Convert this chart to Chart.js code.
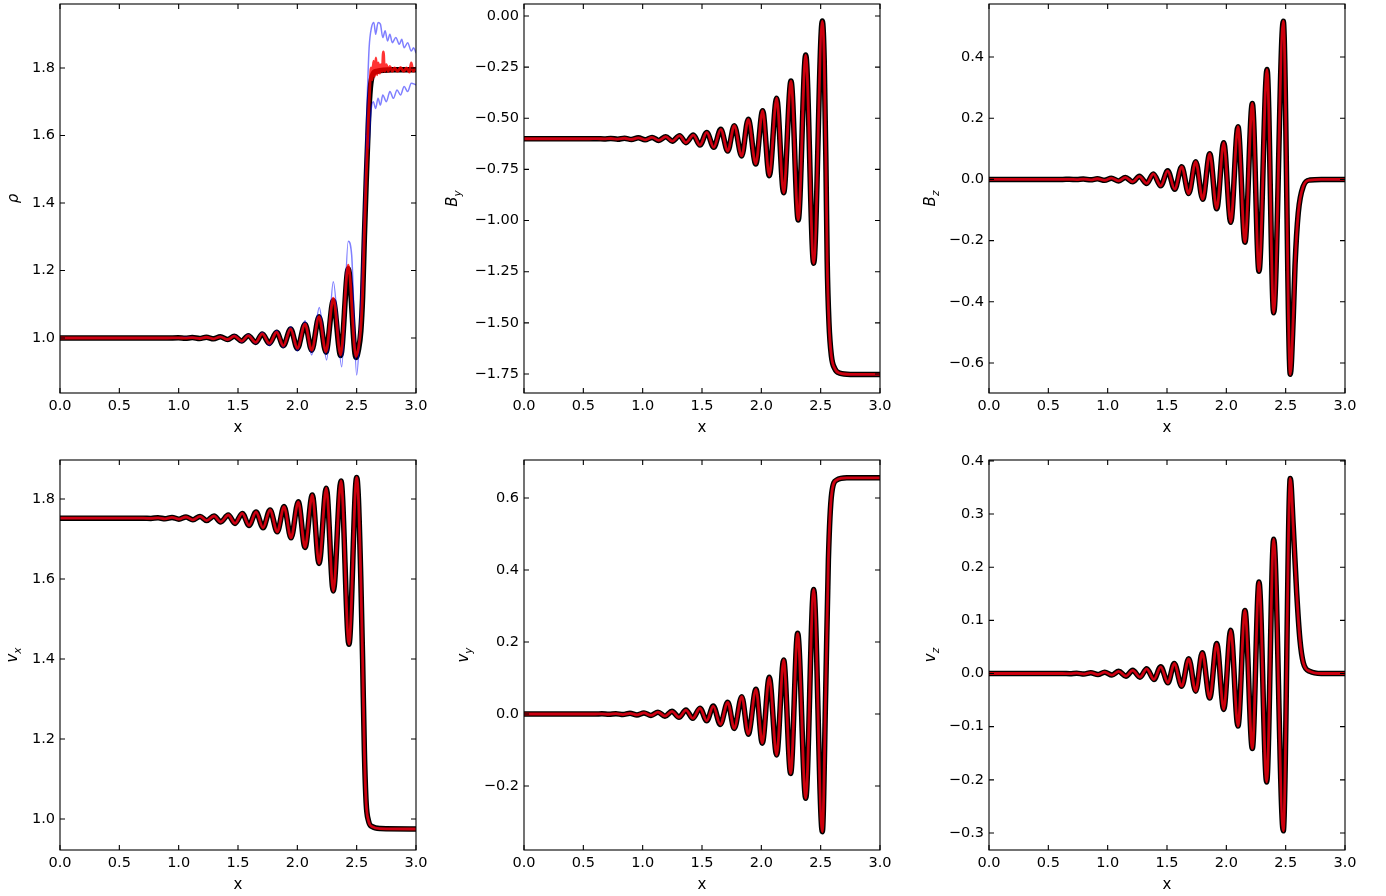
<!DOCTYPE html>
<html><head><meta charset="utf-8">
<script src="https://cdn.jsdelivr.net/npm/chart.js@4.4.1/dist/chart.umd.min.js"></script>
<style>
html,body{margin:0;padding:0;background:#fff;}
#wrap{position:relative;width:1386px;height:896px;overflow:hidden;background:#fff;}
canvas{position:absolute;}
</style></head><body><div id="wrap"></div>
<script>
// ---------------- data ----------------
const xTicks = [0, 0.5, 1.0, 1.5, 2.0, 2.5, 3.0];
const rhoTicks = [1.0, 1.2, 1.4, 1.6, 1.8];
const byTicks = [-1.75, -1.5, -1.25, -1.0, -0.75, -0.5, -0.25, 0.0];
const bzTicks = [-0.6, -0.4, -0.2, 0.0, 0.2, 0.4];
const vxTicks = [1.0, 1.2, 1.4, 1.6, 1.8];
const vyTicks = [-0.2, 0.0, 0.2, 0.4, 0.6];
const vzTicks = [-0.3, -0.2, -0.1, 0.0, 0.1, 0.2, 0.3, 0.4];

// density: black reference
const rhoBlackX = [0.0, 0.9, 0.997, 1.056, 1.115, 1.177, 1.233, 1.295, 1.351, 1.413, 1.469, 1.531, 1.587, 1.649, 1.705, 1.764, 1.826, 1.882, 1.944, 2.000, 2.065, 2.121, 2.183, 2.241, 2.303, 2.365, 2.429, 2.494, 2.515, 2.535, 2.550, 2.565, 2.580, 2.600, 2.615, 2.635, 2.670, 2.800, 3.000];
const rhoBlackY = [1.000, 1.000, 1.0006, 0.9993, 1.0012, 0.9985, 1.0022, 0.9975, 1.0035, 0.9955, 1.0055, 0.991, 1.007, 0.987, 1.012, 0.984, 1.017, 0.977, 1.027, 0.969, 1.041, 0.964, 1.063, 0.958, 1.110, 0.948, 1.205, 0.942, 0.965, 1.020, 1.120, 1.300, 1.460, 1.650, 1.740, 1.780, 1.790, 1.795, 1.795];
// density: red
const rhoRedX = [0.0, 0.9, 0.997, 1.056, 1.115, 1.177, 1.233, 1.295, 1.351, 1.413, 1.469, 1.531, 1.587, 1.649, 1.705, 1.764, 1.826, 1.882, 1.944, 2.000, 2.065, 2.121, 2.183, 2.241, 2.303, 2.365, 2.429, 2.494, 2.515, 2.535, 2.550, 2.565, 2.580, 2.600, 2.612, 2.622, 2.632, 2.642, 2.652, 2.662, 2.672, 2.682, 2.695, 2.705, 2.715, 2.725, 2.735, 2.750, 2.765, 2.780, 2.800, 2.820, 2.845, 2.870, 2.895, 2.920, 2.945, 2.960, 2.975, 3.000];
const rhoRedY = [1.000, 1.000, 1.0006, 0.9993, 1.0012, 0.9985, 1.0022, 0.9975, 1.0035, 0.9955, 1.0055, 0.991, 1.007, 0.987, 1.012, 0.984, 1.017, 0.977, 1.027, 0.969, 1.041, 0.964, 1.063, 0.959, 1.118, 0.950, 1.216, 0.945, 0.970, 1.030, 1.130, 1.310, 1.470, 1.660, 1.750, 1.800, 1.765, 1.820, 1.775, 1.830, 1.780, 1.815, 1.785, 1.810, 1.790, 1.848, 1.790, 1.810, 1.790, 1.805, 1.790, 1.800, 1.790, 1.802, 1.790, 1.800, 1.788, 1.815, 1.790, 1.800];
// density: blue (upper strand) and blue lower strand
const rhoBlueX = [0.0, 0.9, 1.115, 1.177, 1.233, 1.295, 1.351, 1.413, 1.469, 1.531, 1.587, 1.649, 1.705, 1.764, 1.826, 1.882, 1.944, 2.000, 2.065, 2.121, 2.185, 2.247, 2.303, 2.374, 2.429, 2.458, 2.500, 2.530, 2.556, 2.575, 2.590, 2.605, 2.625, 2.645, 2.660, 2.680, 2.700, 2.720, 2.740, 2.760, 2.780, 2.800, 2.830, 2.860, 2.880, 2.900, 2.930, 2.960, 2.980, 3.000];
const rhoBlueY = [1.000, 1.000, 1.002, 0.998, 1.003, 0.997, 1.005, 0.994, 1.008, 0.988, 1.010, 0.984, 1.016, 0.978, 1.022, 0.972, 1.033, 0.962, 1.051, 0.950, 1.090, 0.935, 1.167, 0.915, 1.287, 1.245, 0.890, 1.050, 1.300, 1.520, 1.720, 1.860, 1.920, 1.935, 1.900, 1.935, 1.930, 1.890, 1.910, 1.880, 1.900, 1.875, 1.890, 1.870, 1.885, 1.860, 1.875, 1.850, 1.860, 1.845];
const rhoBlue2X = [2.580, 2.600, 2.620, 2.640, 2.660, 2.680, 2.700, 2.720, 2.750, 2.780, 2.810, 2.840, 2.870, 2.900, 2.930, 2.960, 3.000];
const rhoBlue2Y = [1.600, 1.560, 1.670, 1.700, 1.680, 1.710, 1.690, 1.720, 1.700, 1.730, 1.710, 1.735, 1.720, 1.745, 1.730, 1.755, 1.750];

// B_y
const byX = [0.000, 0.550, 0.615, 0.675, 0.731, 0.790, 0.847, 0.905, 0.963, 1.020, 1.079, 1.135, 1.195, 1.250, 1.311, 1.365, 1.427, 1.483, 1.540, 1.599, 1.658, 1.717, 1.772, 1.834, 1.890, 1.953, 2.011, 2.067, 2.129, 2.188, 2.250, 2.311, 2.374, 2.441, 2.514, 2.530, 2.545, 2.555, 2.570, 2.590, 2.620, 2.660, 2.750, 3.000];
const byY = [-0.600, -0.600, -0.5996, -0.6007, -0.5988, -0.6020, -0.5975, -0.6035, -0.5955, -0.6055, -0.5935, -0.6080, -0.5900, -0.6120, -0.5850, -0.6190, -0.5820, -0.6310, -0.5690, -0.6420, -0.5540, -0.6600, -0.5360, -0.6840, -0.5050, -0.7230, -0.4630, -0.7810, -0.4020, -0.8640, -0.3180, -0.9970, -0.1910, -1.2090, -0.0250, -0.2200, -0.7500, -1.2000, -1.5000, -1.6600, -1.7250, -1.7460, -1.7520, -1.7520];

// B_z
const bzX = [0.000, 0.620, 0.677, 0.739, 0.795, 0.857, 0.913, 0.975, 1.031, 1.093, 1.149, 1.211, 1.267, 1.329, 1.385, 1.447, 1.506, 1.565, 1.624, 1.683, 1.742, 1.801, 1.860, 1.919, 1.978, 2.037, 2.098, 2.157, 2.219, 2.275, 2.343, 2.399, 2.480, 2.539, 2.564, 2.579, 2.606, 2.649, 2.705, 2.800, 3.000];
const bzY = [0.000, 0.000, 0.0003, -0.0006, 0.0010, -0.0015, 0.0022, -0.0030, 0.0040, -0.0050, 0.0065, -0.0080, 0.0100, -0.0130, 0.0180, -0.0210, 0.0280, -0.0320, 0.0410, -0.0460, 0.0580, -0.0650, 0.0840, -0.0960, 0.1200, -0.1400, 0.1720, -0.2050, 0.2480, -0.3000, 0.3590, -0.4360, 0.5170, -0.6370, -0.4500, -0.2800, -0.1100, -0.0220, -0.0020, 0.0000, 0.0000];

// v_x
const vxX = [0.000, 0.700, 0.766, 0.826, 0.884, 0.944, 1.002, 1.062, 1.120, 1.180, 1.236, 1.298, 1.354, 1.418, 1.475, 1.536, 1.593, 1.652, 1.711, 1.770, 1.831, 1.888, 1.947, 2.008, 2.065, 2.126, 2.183, 2.244, 2.303, 2.368, 2.435, 2.500, 2.515, 2.535, 2.550, 2.565, 2.580, 2.600, 2.630, 2.700, 3.000];
const vxY = [1.752, 1.752, 1.7515, 1.7530, 1.7505, 1.7540, 1.7495, 1.7550, 1.7480, 1.7565, 1.7460, 1.7575, 1.7425, 1.7600, 1.7390, 1.7640, 1.7340, 1.7675, 1.7280, 1.7725, 1.7180, 1.7810, 1.7030, 1.7930, 1.6790, 1.8100, 1.6390, 1.8270, 1.5700, 1.8450, 1.4370, 1.8540, 1.8000, 1.6000, 1.4000, 1.1700, 1.0400, 0.9950, 0.9810, 0.9760, 0.9750];

// v_y
const vyX = [0.000, 0.600, 0.657, 0.716, 0.775, 0.834, 0.893, 0.952, 1.011, 1.070, 1.129, 1.188, 1.247, 1.306, 1.365, 1.422, 1.483, 1.540, 1.595, 1.654, 1.717, 1.772, 1.835, 1.890, 1.955, 2.008, 2.067, 2.129, 2.188, 2.247, 2.306, 2.374, 2.441, 2.514, 2.542, 2.565, 2.593, 2.635, 2.720, 3.000];
const vyY = [0.000, 0.000, 0.0004, -0.0007, 0.0010, -0.0015, 0.0020, -0.0025, 0.0030, -0.0040, 0.0050, -0.0060, 0.0075, -0.0090, 0.0110, -0.0120, 0.0160, -0.0190, 0.0220, -0.0290, 0.0325, -0.0400, 0.0480, -0.0560, 0.0686, -0.0810, 0.1020, -0.1140, 0.1500, -0.1650, 0.2240, -0.2340, 0.3460, -0.3270, 0.0570, 0.4280, 0.6130, 0.6500, 0.6560, 0.6560];

// v_z
const vzX = [0.000, 0.620, 0.682, 0.739, 0.800, 0.857, 0.918, 0.975, 1.036, 1.093, 1.154, 1.211, 1.272, 1.329, 1.390, 1.447, 1.508, 1.561, 1.624, 1.683, 1.742, 1.797, 1.860, 1.919, 1.978, 2.037, 2.098, 2.157, 2.219, 2.275, 2.340, 2.399, 2.480, 2.539, 2.564, 2.593, 2.620, 2.649, 2.705, 2.800, 3.000];
const vzY = [0.000, 0.000, -0.0004, 0.0007, -0.0010, 0.0015, -0.0020, 0.0025, -0.0030, 0.0040, -0.0050, 0.0060, -0.0070, 0.0088, -0.0113, 0.0126, -0.0174, 0.0188, -0.0238, 0.0276, -0.0332, 0.0388, -0.0463, 0.0563, -0.0675, 0.0812, -0.0988, 0.1187, -0.1410, 0.1720, -0.2040, 0.2526, -0.2960, 0.3670, 0.2760, 0.1510, 0.0640, 0.0200, 0.0040, 0.0000, 0.0000];

// ---------------- styles ----------------
const FONT = '"DejaVu Sans", "Liberation Sans", sans-serif';
const TICK_FONT = {family: FONT, size: 14.5};
const RED = 'rgba(255,0,0,0.8)';
const BLUE = 'rgba(0,0,255,0.5)';
const BLACK = '#000000';

function pts(xs, ys) { return xs.map((x, i) => ({x: x, y: ys[i]})); }
function line(xs, ys, color, width, order) {
  return {data: pts(xs, ys), borderColor: color, backgroundColor: color, borderWidth: width,
    pointRadius: 0, cubicInterpolationMode: 'monotone', fill: false, order: order, clip: 0,
    borderJoinStyle: 'round', borderCapStyle: 'round'};
}
function trio(xs, ys) {
  return [line(xs, ys, RED, 2.8, 0), line(xs, ys, BLUE, 1.5, 1), line(xs, ys, BLACK, 5.5, 2)];
}
function fmt(v, dec) {
  let s = (Math.abs(v) < 1e-9 ? 0 : v).toFixed(dec);
  return s.replace('-', '\u2212');
}

function drawYTitle(ctx, cx, cy, main, sub) {
  ctx.save();
  ctx.translate(cx, cy);
  ctx.rotate(-Math.PI / 2);
  ctx.fillStyle = '#000';
  ctx.textBaseline = 'alphabetic';
  ctx.textAlign = 'left';
  const fm = 'italic 15px ' + FONT, fs = 'italic 10.5px ' + FONT;
  ctx.font = fm; const wm = ctx.measureText(main).width;
  ctx.font = fs; const ws = sub ? ctx.measureText(sub).width : 0;
  const x0 = -(wm + ws) / 2;
  ctx.font = fm; ctx.fillText(main, x0, 5);
  if (sub) { ctx.font = fs; ctx.fillText(sub, x0 + wm, 8.5); }
  ctx.restore();
}

const frameTicks = {
  id: 'frameTicks',
  afterDatasetsDraw(chart, args, opts) {
    const ctx = chart.ctx, a = chart.chartArea, xs = chart.scales.x, ys = chart.scales.y;
    const L = 5;
    ctx.save();
    ctx.strokeStyle = '#000';
    ctx.lineWidth = 1.1;
    ctx.beginPath();
    xs.ticks.forEach(t => {
      const px = xs.getPixelForValue(t.value);
      ctx.moveTo(px, a.bottom); ctx.lineTo(px, a.bottom - L);
      ctx.moveTo(px, a.top); ctx.lineTo(px, a.top + L);
    });
    ys.ticks.forEach(t => {
      const py = ys.getPixelForValue(t.value);
      ctx.moveTo(a.left, py); ctx.lineTo(a.left + L, py);
      ctx.moveTo(a.right, py); ctx.lineTo(a.right - L, py);
    });
    ctx.stroke();
    ctx.strokeRect(a.left, a.top, a.right - a.left, a.bottom - a.top);
    // x title
    ctx.fillStyle = '#000';
    ctx.font = '15px ' + FONT;
    ctx.textAlign = 'center';
    ctx.textBaseline = 'middle';
    ctx.fillText(opts.xTitle, (a.left + a.right) / 2, a.bottom + opts.xTitleOff);
    ctx.restore();
    drawYTitle(ctx, a.left - opts.yTitleOff, (a.top + a.bottom) / 2, opts.yMain, opts.ySub);
  }
};

// ---------------- panels (layout) ----------------
const panels = [
  {box: [0, 0, 440, 448], area: [60, 4, 416, 393], yMin: 0.837, yMax: 1.9896, yTicks: rhoTicks, dec: 1,
   yMain: '\u03c1', ySub: '', yTitleOff: 47,
   datasets: [line(rhoRedX, rhoRedY, RED, 2.8, 0), line(rhoBlueX, rhoBlueY, BLUE, 1.5, 1),
              line(rhoBlue2X, rhoBlue2Y, BLUE, 1.5, 1), line(rhoBlackX, rhoBlackY, BLACK, 5.5, 2)]},
  {box: [440, 0, 464, 448], area: [524, 4, 880, 393], yMin: -1.843, yMax: 0.0587, yTicks: byTicks, dec: 2,
   yMain: 'B', ySub: 'y', yTitleOff: 72, datasets: trio(byX, byY)},
  {box: [904, 0, 482, 448], area: [989, 4, 1345, 393], yMin: -0.698, yMax: 0.5732, yTicks: bzTicks, dec: 1,
   yMain: 'B', ySub: 'z', yTitleOff: 59, datasets: trio(bzX, bzY)},
  {box: [0, 448, 440, 448], area: [60, 460, 416, 850], yMin: 0.9225, yMax: 1.8975, yTicks: vxTicks, dec: 1,
   yMain: 'v', ySub: 'x', yTitleOff: 48, datasets: trio(vxX, vxY)},
  {box: [440, 448, 464, 448], area: [524, 460, 880, 850], yMin: -0.3778, yMax: 0.7056, yTicks: vyTicks, dec: 1,
   yMain: 'v', ySub: 'y', yTitleOff: 61, datasets: trio(vyX, vyY)},
  {box: [904, 448, 482, 448], area: [989, 460, 1345, 850], yMin: -0.332, yMax: 0.4016, yTicks: vzTicks, dec: 1,
   yMain: 'v', ySub: 'z', yTitleOff: 59, datasets: trio(vzX, vzY)}
];

const wrap = document.getElementById('wrap');
panels.forEach(p => {
  const c = document.createElement('canvas');
  c.width = p.box[2]; c.height = p.box[3];
  c.style.left = p.box[0] + 'px'; c.style.top = p.box[1] + 'px';
  c.style.width = p.box[2] + 'px'; c.style.height = p.box[3] + 'px';
  wrap.appendChild(c);
  const yW = p.area[0] - p.box[0];
  const padTop = p.area[1] - p.box[1];
  const padRight = p.box[0] + p.box[2] - p.area[2];
  const xH = p.box[1] + p.box[3] - p.area[3];
  new Chart(c, {
    type: 'line',
    data: {datasets: p.datasets},
    options: {
      responsive: false, animation: false, events: [], devicePixelRatio: 1,
      layout: {padding: {top: padTop, right: padRight, left: 0, bottom: 0}, autoPadding: false},
      plugins: {legend: {display: false}, tooltip: {enabled: false},
        frameTicks: {xTitle: 'x', xTitleOff: 35, yMain: p.yMain, ySub: p.ySub, yTitleOff: p.yTitleOff}},
      scales: {
        x: {type: 'linear', min: 0, max: 3,
          afterBuildTicks: s => { s.ticks = xTicks.map(v => ({value: v})); },
          ticks: {callback: v => fmt(v, 1), font: TICK_FONT, color: '#000', padding: 5, maxRotation: 0, autoSkip: false},
          grid: {display: false, drawTicks: false}, border: {display: false},
          afterFit: s => { s.height = xH; s.paddingLeft = 0; s.paddingRight = 0; }},
        y: {type: 'linear', min: p.yMin, max: p.yMax,
          afterBuildTicks: s => { s.ticks = p.yTicks.map(v => ({value: v})); },
          ticks: {callback: v => fmt(v, p.dec), font: TICK_FONT, color: '#000', padding: 5, autoSkip: false},
          grid: {display: false, drawTicks: false}, border: {display: false},
          afterFit: s => { s.width = yW; s.paddingTop = 0; s.paddingBottom = 0; }}
      }
    },
    plugins: [frameTicks]
  });
});
</script>
</body></html>
